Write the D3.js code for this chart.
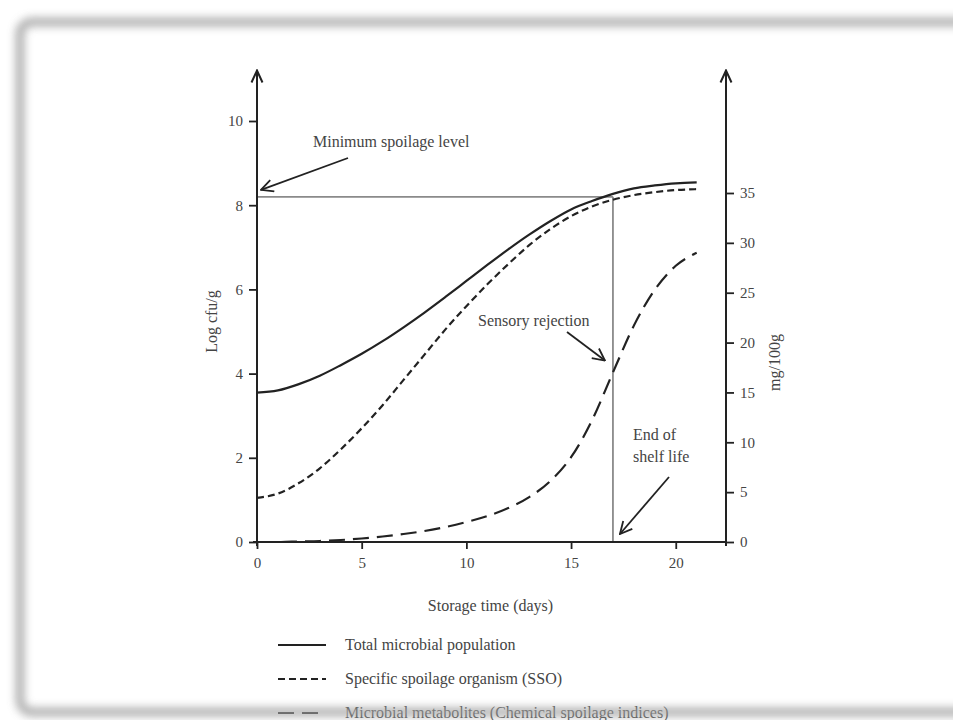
<!DOCTYPE html>
<html>
<head>
<meta charset="utf-8">
<script src="https://cdn.jsdelivr.net/npm/d3@7"></script>
<style>
  html, body { margin: 0; padding: 0; background: #fff; }
  svg { display: block; }
  text { font-family: "Liberation Serif", "DejaVu Serif", serif; fill: #444; }
</style>
</head>
<body>
<svg id="chart" width="953" height="720"></svg>
<script>
// ---- data ----
const days = [0,1,2,3,4,5,6,7,8,9,10,11,12,13,14,15,16,17,18,19,20,21];
const totalPopulation = [3.55,3.60,3.75,3.95,4.20,4.47,4.77,5.10,5.45,5.82,6.20,6.58,6.95,7.30,7.62,7.90,8.10,8.27,8.40,8.47,8.52,8.54];
const ssoPopulation   = [1.05,1.15,1.4,1.75,2.2,2.7,3.25,3.85,4.45,5.05,5.6,6.12,6.6,7.05,7.43,7.74,7.97,8.13,8.24,8.31,8.36,8.38];
const metabolites     = [0,0,0.05,0.1,0.2,0.35,0.55,0.8,1.1,1.5,2.0,2.6,3.4,4.5,6.1,8.5,12.2,17.0,21.7,25.3,27.7,29.0];
const xTicks = [0,5,10,15,20];
const leftTicks = [0,2,4,6,8,10];
const rightTicks = [0,5,10,15,20,25,30,35];
const minSpoilageLevel = 8.2;
const shelfLifeDay = 17;
const legendLabels = ["Total microbial population","Specific spoilage organism (SSO)","Microbial metabolites (Chemical spoilage indices)"];
const legendDash = [null,"7,4","16,8"];

const svg = d3.select("#chart");
const defs = svg.append("defs");
defs.append("filter").attr("id","blur").attr("x","-5%").attr("y","-5%").attr("width","110%").attr("height","110%")
  .append("feGaussianBlur").attr("stdDeviation",4);
defs.append("marker").attr("id","arrow").attr("markerUnits","userSpaceOnUse")
  .attr("viewBox","0 0 14 14").attr("refX",13).attr("refY",7)
  .attr("markerWidth",14).attr("markerHeight",14).attr("orient","auto")
  .append("path").attr("d","M1,1 L13,7 L1,13").attr("fill","none").attr("stroke","#222").attr("stroke-width",1.8);
defs.append("marker").attr("id","axisArrow").attr("markerUnits","userSpaceOnUse")
  .attr("viewBox","0 0 14 14").attr("refX",13).attr("refY",7)
  .attr("markerWidth",14).attr("markerHeight",14).attr("orient","auto")
  .append("path").attr("d","M1,1.5 L13,7 L1,12.5").attr("fill","none").attr("stroke","#222").attr("stroke-width",2);

svg.append("rect").attr("x",0).attr("y",0).attr("width",953).attr("height",720).attr("fill","#fff");

// scales
const x = d3.scaleLinear().domain([0,22.4]).range([257,726]);
const yL = d3.scaleLinear().domain([0,10]).range([542,121]);
const yR = d3.scaleLinear().domain([0,35]).range([542,193]);
const yTop = yL(11.2);

const g = svg.append("g");

// reference lines
g.append("line").attr("x1",x(0)).attr("x2",x(shelfLifeDay)).attr("y1",yL(minSpoilageLevel)).attr("y2",yL(minSpoilageLevel))
  .attr("stroke","#8a8a8a").attr("stroke-width",1.8);
g.append("line").attr("x1",x(shelfLifeDay)).attr("x2",x(shelfLifeDay)).attr("y1",yL(minSpoilageLevel)).attr("y2",yL(0))
  .attr("stroke","#8a8a8a").attr("stroke-width",1.8);

// curves
const lineL = d3.line().x((d,i)=>x(days[i])).y(d=>yL(d)).curve(d3.curveMonotoneX);
const lineR = d3.line().x((d,i)=>x(days[i])).y(d=>yR(d)).curve(d3.curveMonotoneX);
g.append("path").attr("d",lineL(totalPopulation)).attr("fill","none").attr("stroke","#222").attr("stroke-width",2.2);
g.append("path").attr("d",lineL(ssoPopulation)).attr("fill","none").attr("stroke","#222").attr("stroke-width",2.2).attr("stroke-dasharray",legendDash[1]);
g.append("path").attr("d",lineR(metabolites)).attr("fill","none").attr("stroke","#222").attr("stroke-width",2.2).attr("stroke-dasharray",legendDash[2]);

// axes
const xAxis = d3.axisBottom(x).tickValues(xTicks).tickSize(7).tickPadding(8).tickFormat(d3.format("d"));
const ax = g.append("g").attr("transform",`translate(0,${yL(0)})`).call(xAxis);
ax.select(".domain").remove();
g.append("line").attr("x1",x(0)-4).attr("x2",x.range()[1]+1).attr("y1",yL(0)).attr("y2",yL(0)).attr("stroke","#222").attr("stroke-width",2);

const lAxis = d3.axisLeft(yL).tickValues(leftTicks).tickSize(8).tickPadding(6).tickFormat(d3.format("d"));
const al = g.append("g").attr("transform",`translate(${x(0)},0)`).call(lAxis);
al.select(".domain").remove();
g.append("line").attr("x1",x(0)).attr("x2",x(0)).attr("y1",yL(0)+4).attr("y2",yTop).attr("stroke","#222").attr("stroke-width",2).attr("marker-end","url(#axisArrow)");

const rAxis = d3.axisRight(yR).tickValues(rightTicks).tickSize(8).tickPadding(6).tickFormat(d3.format("d"));
const ar = g.append("g").attr("transform",`translate(${x.range()[1]},0)`).call(rAxis);
ar.select(".domain").remove();
g.append("line").attr("x1",x.range()[1]).attr("x2",x.range()[1]).attr("y1",yL(0)+4).attr("y2",yTop).attr("stroke","#222").attr("stroke-width",2).attr("marker-end","url(#axisArrow)");

g.selectAll(".tick line").attr("stroke","#222").attr("stroke-width",1.8);
g.selectAll(".tick text").attr("font-family","Liberation Serif, serif").attr("font-size",15).attr("fill","#444");

// axis titles
g.append("text").attr("x",(x(0)+x.range()[1])/2 - 1).attr("y",611).attr("text-anchor","middle").attr("font-size",16).text("Storage time (days)");
g.append("text").attr("transform",`translate(217,${yL(5)-10}) rotate(-90)`).attr("text-anchor","middle").attr("font-size",16).text("Log cfu/g");
g.append("text").attr("transform",`translate(780,${yR(18)}) rotate(-90)`).attr("text-anchor","middle").attr("font-size",16).text("mg/100g");

// annotations
g.append("text").attr("x",313).attr("y",147).attr("font-size",16).text("Minimum spoilage level");
g.append("line").attr("x1",348).attr("y1",158).attr("x2",x(0)+4).attr("y2",yL(minSpoilageLevel)-7)
  .attr("stroke","#222").attr("stroke-width",1.8).attr("marker-end","url(#arrow)");
g.append("text").attr("x",478).attr("y",326).attr("font-size",16).text("Sensory rejection");
g.append("line").attr("x1",567).attr("y1",332).attr("x2",x(shelfLifeDay)-8).attr("y2",yR(18.2))
  .attr("stroke","#222").attr("stroke-width",1.8).attr("marker-end","url(#arrow)");
g.append("text").attr("x",633).attr("y",440).attr("font-size",16).text("End of");
g.append("text").attr("x",633).attr("y",462).attr("font-size",16).text("shelf life");
g.append("line").attr("x1",669).attr("y1",477).attr("x2",x(shelfLifeDay)+7).attr("y2",yL(0)-8)
  .attr("stroke","#222").attr("stroke-width",1.8).attr("marker-end","url(#arrow)");

// legend
const legend = g.append("g");
legendLabels.forEach((lab,i)=>{
  const yy = 645 + i*34;
  legend.append("line").attr("x1",278).attr("x2",326).attr("y1",yy).attr("y2",yy)
    .attr("stroke","#222").attr("stroke-width",2.2).attr("stroke-dasharray",legendDash[i]);
  legend.append("text").attr("x",345).attr("y",yy+5).attr("font-size",16).text(lab);
});

// slide frame shadow
svg.append("rect").attr("x",20).attr("y",22).attr("width",1000).attr("height",690).attr("rx",12)
  .attr("fill","none").attr("stroke","#a4a4a4").attr("stroke-width",9).attr("opacity",0.85).attr("filter","url(#blur)");
</script>
</body>
</html>
